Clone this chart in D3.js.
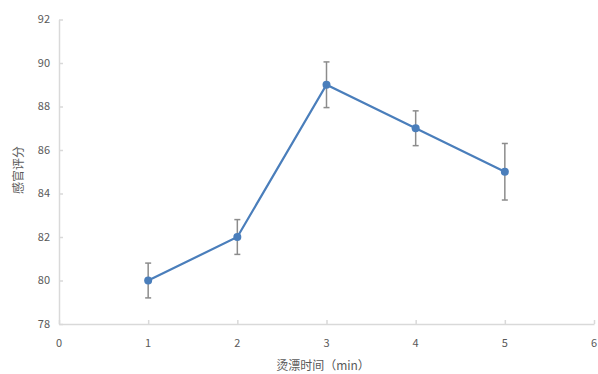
<!DOCTYPE html>
<html>
<head>
<meta charset="utf-8">
<script src="https://cdn.jsdelivr.net/npm/d3@7/dist/d3.min.js"></script>
<style>
  html, body { margin: 0; padding: 0; background: #fff; }
  svg { display: block; }
  text { font-family: "Noto Sans CJK SC", "Noto Sans", sans-serif; }
</style>
</head>
<body>
<svg id="chart" width="598" height="374"></svg>
<script>
// Blanching time (min) against sensory score, with error bars
const times = [1, 2, 3, 4, 5];
const scores = [80, 82, 89, 87, 85];
const errors = [0.8, 0.8, 1.05, 0.8, 1.3];
const xTicks = [0, 1, 2, 3, 4, 5, 6];
const yTicks = [78, 80, 82, 84, 86, 88, 90, 92];

const svg = d3.select("#chart");
const plotLeft = 59, plotRight = 594, plotTop = 19.5, plotBottom = 324;

const x = d3.scaleLinear().domain([0, 6]).range([plotLeft, plotRight]);
const y = d3.scaleLinear().domain([78, 92]).range([plotBottom, plotTop]);

const axisColor = "#d9d9d9";
const labelColor = "#595959";

// y axis
const gy = svg.append("g").attr("transform", `translate(${plotLeft},0)`)
  .call(d3.axisRight(y).tickValues(yTicks).tickSize(4).tickSizeOuter(0).tickFormat(""));
gy.selectAll("path, line").attr("stroke", axisColor).attr("stroke-width", 1.5);
svg.append("g").selectAll("text").data(yTicks).join("text")
  .attr("x", plotLeft - 9).attr("y", d => y(d)).attr("dy", "0.35em")
  .attr("text-anchor", "end").attr("font-size", 11).attr("fill", labelColor)
  .text(d => d);

// x axis
const gx = svg.append("g").attr("transform", `translate(0,${plotBottom})`)
  .call(d3.axisTop(x).tickValues(xTicks).tickSize(4).tickSizeOuter(0).tickFormat(""));
gx.selectAll("path, line").attr("stroke", axisColor).attr("stroke-width", 1.5);
svg.append("g").selectAll("text").data(xTicks).join("text")
  .attr("x", d => x(d)).attr("y", plotBottom + 19).attr("dy", "0.35em")
  .attr("text-anchor", "middle").attr("font-size", 11).attr("fill", labelColor)
  .text(d => d);

// axis titles
svg.append("text")
  .attr("transform", `translate(19,170) rotate(-90)`)
  .attr("text-anchor", "middle").attr("dy", "0.35em")
  .attr("font-size", 12).attr("fill", labelColor)
  .text("感官评分");
svg.append("text")
  .attr("x", 323).attr("y", 366).attr("dy", "0.35em")
  .attr("text-anchor", "middle").attr("font-size", 12).attr("fill", labelColor)
  .text("烫漂时间（min）");

const data = times.map((t, i) => ({ t, v: scores[i], e: errors[i] }));

// error bars
const eb = svg.append("g").attr("stroke", "#8c8c8c").attr("stroke-width", 1.5);
eb.selectAll("line.v").data(data).join("line").attr("class", "v")
  .attr("x1", d => x(d.t)).attr("x2", d => x(d.t))
  .attr("y1", d => y(d.v + d.e)).attr("y2", d => y(d.v - d.e));
eb.selectAll("line.cap-top").data(data).join("line").attr("class", "cap-top")
  .attr("x1", d => x(d.t) - 3).attr("x2", d => x(d.t) + 3)
  .attr("y1", d => y(d.v + d.e)).attr("y2", d => y(d.v + d.e));
eb.selectAll("line.cap-bot").data(data).join("line").attr("class", "cap-bot")
  .attr("x1", d => x(d.t) - 3).attr("x2", d => x(d.t) + 3)
  .attr("y1", d => y(d.v - d.e)).attr("y2", d => y(d.v - d.e));

// series line and markers
const blue = "#4a7ebb";
svg.append("path").datum(data)
  .attr("fill", "none").attr("stroke", blue).attr("stroke-width", 2.2)
  .attr("d", d3.line().x(d => x(d.t)).y(d => y(d.v)));
svg.append("g").selectAll("circle").data(data).join("circle")
  .attr("cx", d => x(d.t)).attr("cy", d => y(d.v)).attr("r", 4)
  .attr("fill", blue);
</script>
</body>
</html>
